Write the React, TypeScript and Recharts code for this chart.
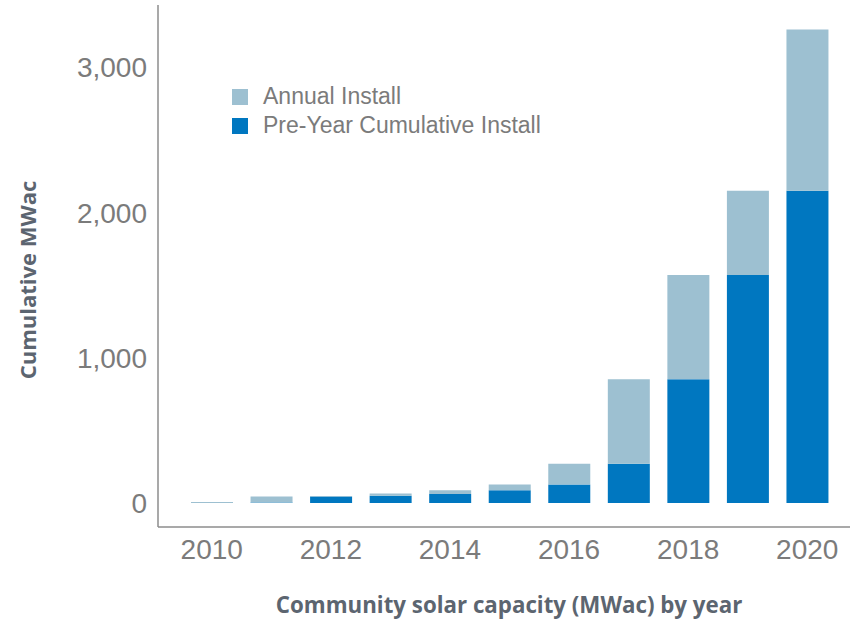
import React from "react";
import { BarChart, Bar, XAxis, YAxis, Label } from "recharts";

// values (MWac)
const years = ["2010", "2011", "2012", "2013", "2014", "2015", "2016", "2017", "2018", "2019", "2020"];
const preYearCumulative = [0, 3, 45, 50, 62, 87, 128, 270, 853, 1571, 2151];
const annualInstall = [7, 42, 3, 15, 25, 41, 142, 583, 718, 580, 1111];
const yTicks = [0, 1000, 2000, 3000];

const LIGHT = "#9dc0d1";
const DARK = "#0077c0";
const TICK_GRAY = "#7b7b7b";
const TITLE_GRAY = "#5c6570";
const AXIS_GRAY = "#8c8c8c";
const TICK_FONT = "'Liberation Sans', Arial, sans-serif";
const TITLE_FONT = "'Open Sans', sans-serif";

const data = years.map((year, i) => ({
  year,
  pre: preYearCumulative[i],
  annual: annualInstall[i],
}));

const legendItems = [
  { label: "Annual Install", color: LIGHT },
  { label: "Pre-Year Cumulative Install", color: DARK },
];

// legend is drawn as an overlay so it doesn't steal plot height
function LegendBox() {
  return (
    <div
      style={{
        position: "absolute",
        left: 232,
        top: 82,
        fontFamily: TICK_FONT,
        fontSize: 23,
        color: TICK_GRAY,
        whiteSpace: "nowrap",
      }}
    >
      {legendItems.map((item) => (
        <div key={item.label} style={{ display: "flex", alignItems: "center", height: 29 }}>
          <span style={{ width: 16, height: 16, background: item.color, display: "inline-block", marginRight: 15 }} />
          <span>{item.label}</span>
        </div>
      ))}
    </div>
  );
}

const fmt = (v: number) => v.toLocaleString("en-US");

export default function App() {
  return (
    <div style={{ position: "absolute", left: 0, top: 0, width: 850, height: 620, background: "#fff" }}>
      <BarChart width={850} height={620} data={data} margin={{ top: 5, right: 0, left: 0, bottom: 0 }}>
        <XAxis
          dataKey="year"
          interval={1}
          height={93}
          padding={{ left: 24, right: 13 }}
          tickLine={false}
          tickSize={0}
          tickMargin={12}
          stroke={AXIS_GRAY}
          strokeWidth={1.5}
          tick={{ fill: TICK_GRAY, fontSize: 28, fontFamily: TICK_FONT }}
        >
          <Label
            value="Community solar capacity (MWac) by year"
            position="insideBottom"
            offset={7}
            dx={5}
            style={{ fill: TITLE_GRAY, fontSize: 22.3, fontWeight: 700, fontFamily: TITLE_FONT }}
          />
        </XAxis>
        <YAxis
          width={158}
          domain={[0, 3430]}
          ticks={yTicks}
          tickFormatter={fmt}
          padding={{ bottom: 24 }}
          tickLine={false}
          tickSize={0}
          tickMargin={11}
          stroke={AXIS_GRAY}
          strokeWidth={1.5}
          tick={{ fill: TICK_GRAY, fontSize: 28, fontFamily: TICK_FONT }}
        >
          <Label
            value="Cumulative MWac"
            angle={-90}
            position="insideLeft"
            offset={28}
            dy={14}
            style={{ textAnchor: "middle", fill: TITLE_GRAY, fontSize: 22, fontWeight: 700, fontFamily: TITLE_FONT }}
          />
        </YAxis>
        <Bar dataKey="pre" name="Pre-Year Cumulative Install" stackId="a" fill={DARK} barSize={42} isAnimationActive={false} />
        <Bar dataKey="annual" name="Annual Install" stackId="a" fill={LIGHT} barSize={42} isAnimationActive={false} />
      </BarChart>
      <LegendBox />
    </div>
  );
}
